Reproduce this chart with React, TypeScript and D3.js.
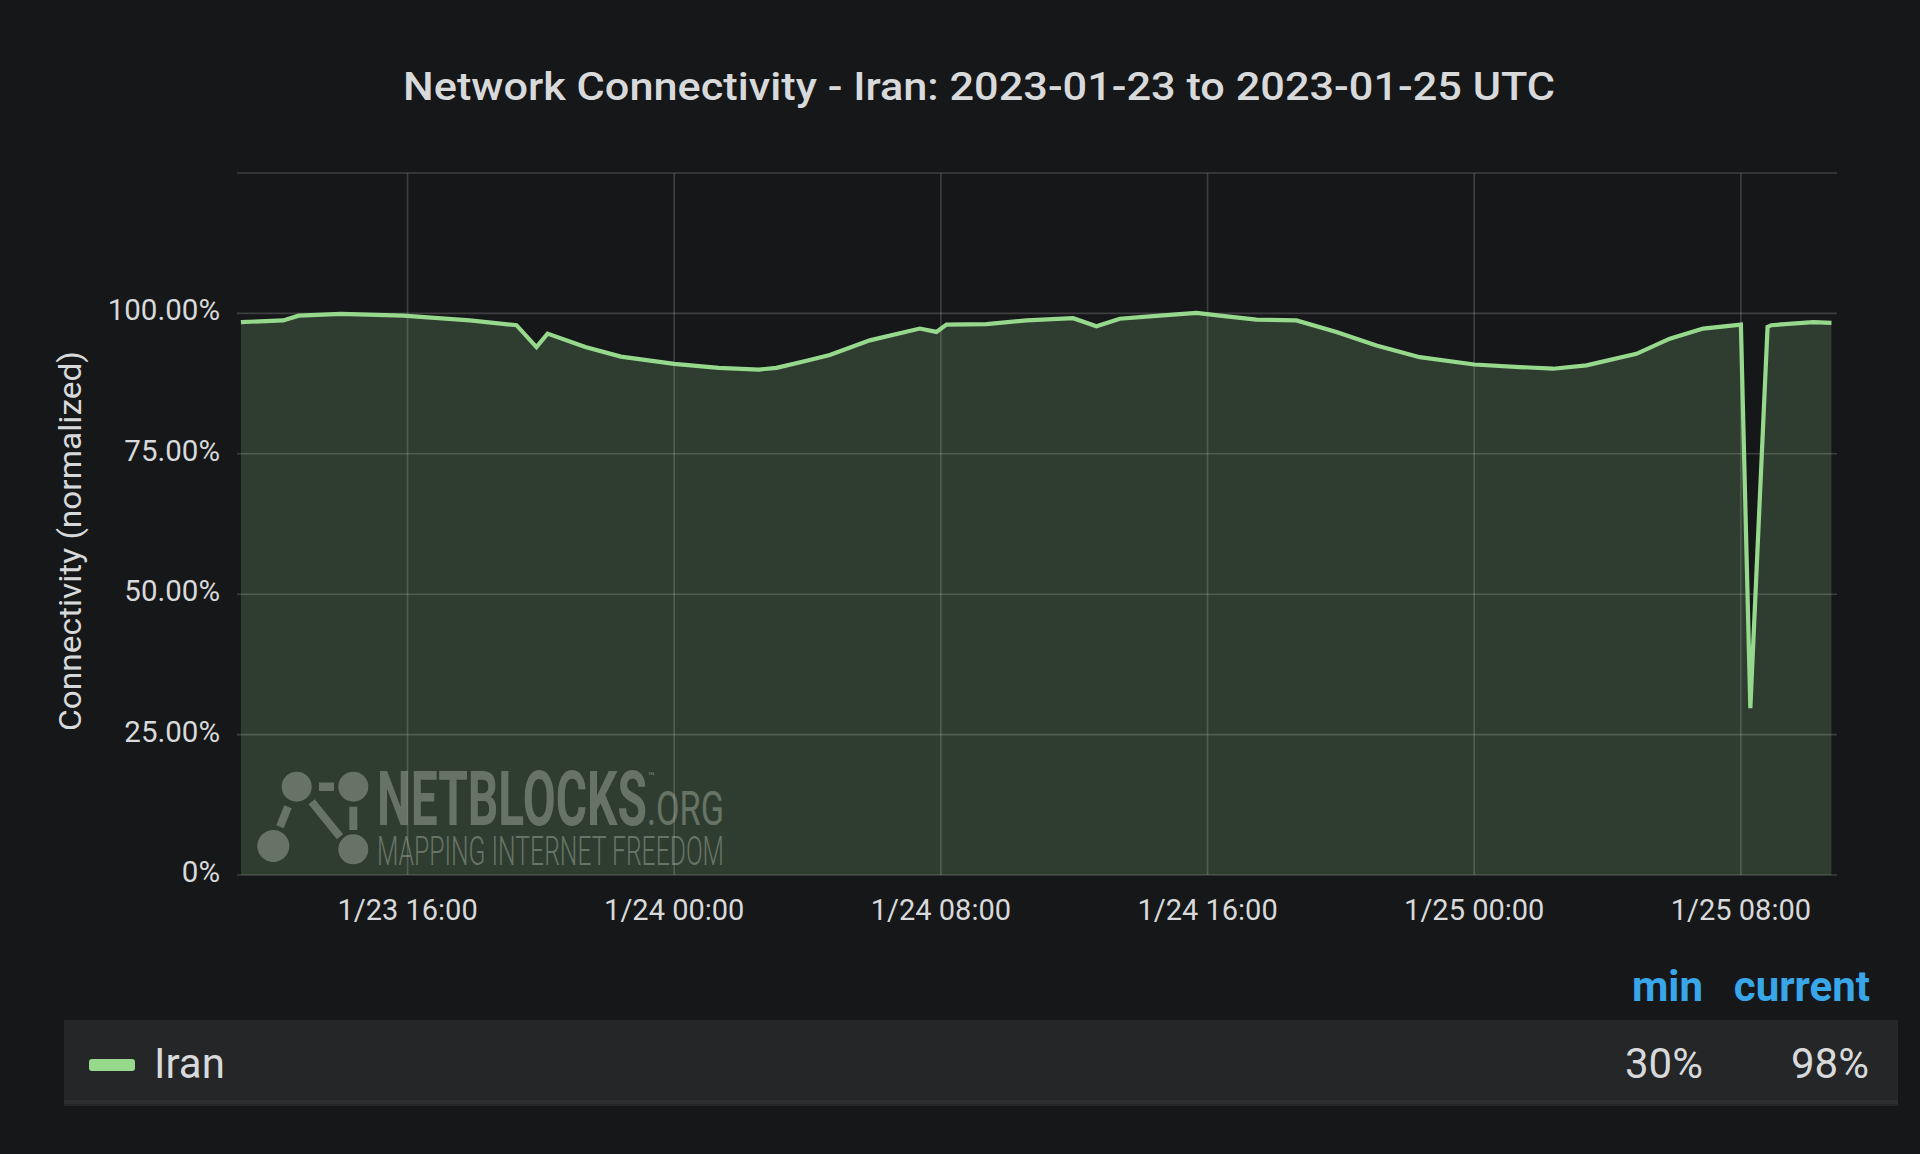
import React from "react";
import * as d3 from "d3";

const TITLE = "Network Connectivity - Iran: 2023-01-23 to 2023-01-25 UTC";
const Y_LABEL = "Connectivity (normalized)";
const SERIES_NAME = "Iran";

const TIMES = [
  "2023-01-23T11:00", "2023-01-23T12:16", "2023-01-23T12:44", "2023-01-23T14:00",
  "2023-01-23T15:52", "2023-01-23T17:52", "2023-01-23T19:16", "2023-01-23T19:52",
  "2023-01-23T20:12", "2023-01-23T21:20", "2023-01-23T22:24", "2023-01-24T00:00",
  "2023-01-24T01:20", "2023-01-24T02:32", "2023-01-24T03:04", "2023-01-24T04:00",
  "2023-01-24T04:40", "2023-01-24T05:52", "2023-01-24T07:22", "2023-01-24T07:52",
  "2023-01-24T08:10", "2023-01-24T09:22", "2023-01-24T10:34", "2023-01-24T11:58",
  "2023-01-24T12:40", "2023-01-24T13:22", "2023-01-24T14:22", "2023-01-24T15:40",
  "2023-01-24T16:22", "2023-01-24T17:28", "2023-01-24T18:40", "2023-01-24T19:52",
  "2023-01-24T21:04", "2023-01-24T22:22", "2023-01-25T00:00", "2023-01-25T01:22",
  "2023-01-25T02:22", "2023-01-25T03:22", "2023-01-25T04:52", "2023-01-25T05:52",
  "2023-01-25T06:52", "2023-01-25T08:00", "2023-01-25T08:17", "2023-01-25T08:48",
  "2023-01-25T08:55", "2023-01-25T10:10", "2023-01-25T10:43",
];
const VALUES = [
  98.45, 98.75, 99.6, 99.9,
  99.6, 98.75, 97.9, 94.0,
  96.4, 94.0, 92.3, 91.0,
  90.3, 90.0, 90.3, 91.6,
  92.6, 95.2, 97.3, 96.7,
  98.0, 98.1, 98.75, 99.15,
  97.7, 99.05, 99.5, 100.1,
  99.6, 98.9, 98.75, 96.7,
  94.3, 92.2, 90.9, 90.45,
  90.15, 90.75, 92.8, 95.5,
  97.3, 98.0, 29.7, 97.6,
  97.9, 98.45, 98.3,
];

const X_DOMAIN = ["2023-01-23T10:53", "2023-01-25T10:53"];
const Y_TICKS = [0, 25, 50, 75, 100];
const Y_GRID = [0, 25, 50, 75, 100, 125];
const LEGEND_HEADERS = ["min", "current"];
const LEGEND_VALUES = ["30%", "98%"];

const W = 1920;
const H = 1154;
const PLOT = { left: 237, right: 1837, top: 173, bottom: 875 };

const BG = "#161719";
const LINE = "#96d98d";
const TEXT = "#d8d9da";
const BLUE = "#38a6e8";
const FONT = "Roboto, 'Noto Sans', sans-serif";

export default function App() {
  const parse = d3.utcParse("%Y-%m-%dT%H:%M");
  const data = TIMES.map((t, i) => ({ t: parse(t) as Date, v: VALUES[i] }));

  const x = d3
    .scaleUtc()
    .domain(X_DOMAIN.map((d) => parse(d) as Date))
    .range([PLOT.left, PLOT.right]);
  const y = d3.scaleLinear().domain([0, 125]).range([PLOT.bottom, PLOT.top]);

  const area = d3
    .area<{ t: Date; v: number }>()
    .x((d) => x(d.t))
    .y0(y(0))
    .y1((d) => y(d.v));
  const line = d3
    .line<{ t: Date; v: number }>()
    .x((d) => x(d.t))
    .y((d) => y(d.v));

  const xTicks = x.ticks(d3.utcHour.every(8) as any);
  const fmtX = d3.utcFormat("%-m/%d %H:%M");
  const fmtY = (v: number) => (v === 0 ? "0%" : v.toFixed(2) + "%");

  const wmFill = "#8c9889";
  const wmOpacity = 0.6;

  return (
    <svg
      width={W}
      height={H}
      style={{ position: "absolute", left: 0, top: 0, display: "block" }}
      fontFamily={FONT}
    >
      <rect x={0} y={0} width={W} height={H} fill={BG} />

      <text
        x={979}
        y={100}
        textAnchor="middle"
        fill={TEXT}
        fontSize={38}
        fontWeight={500}
        textLength={1152}
        lengthAdjust="spacingAndGlyphs"
      >
        {TITLE}
      </text>

      {/* area fill */}
      <path d={area(data) || ""} fill={LINE} fillOpacity={0.2} />

      {/* watermark */}
      <g opacity={wmOpacity} fill={wmFill} stroke="none">
        <circle cx={296.7} cy={786.7} r={15} />
        <circle cx={353.3} cy={786.7} r={15} />
        <circle cx={273.3} cy={846} r={16} />
        <circle cx={353.3} cy={849.3} r={15} />
        <rect x={319} y={782.5} width={15} height={8.5} />
        <g stroke={wmFill} strokeWidth={8} strokeLinecap="butt">
          <line x1={288} y1={806.7} x2={280} y2={826.7} />
          <line x1={311.7} y1={801.7} x2={340} y2={836.7} />
          <line x1={353.3} y1={806.7} x2={353.3} y2={830} />
        </g>
        <text>
          <tspan x={377} y={825} fontSize={76} fontWeight={700} textLength={270} lengthAdjust="spacingAndGlyphs">
            NETBLOCKS
          </tspan>
          <tspan x={648} y={780} fontSize={11} fontWeight={700}>
            ™
          </tspan>
          <tspan x={647} y={825} fontSize={48} fontWeight={400} textLength={77} lengthAdjust="spacingAndGlyphs">
            .ORG
          </tspan>
          <tspan x={377} y={865} fontSize={41} fontWeight={300} textLength={347} lengthAdjust="spacingAndGlyphs">
            MAPPING INTERNET FREEDOM
          </tspan>
        </text>
      </g>

      {/* grid */}
      <g stroke="#cccccc" strokeOpacity={0.22} strokeWidth={1.6}>
        {Y_GRID.map((v) => (
          <line key={"h" + v} x1={PLOT.left} x2={PLOT.right} y1={y(v)} y2={y(v)} />
        ))}
        {xTicks.map((t) => (
          <line key={"v" + t.getTime()} x1={x(t)} x2={x(t)} y1={PLOT.top} y2={PLOT.bottom} />
        ))}
      </g>

      {/* series line */}
      <path
        d={line(data) || ""}
        fill="none"
        stroke={LINE}
        strokeWidth={4.2}
        strokeLinejoin="miter"
      />

      {/* y tick labels */}
      {Y_TICKS.map((v) => (
        <text
          key={"yt" + v}
          x={220}
          y={y(v) + 7}
          textAnchor="end"
          fill={TEXT}
          fontSize={29.5}
        >
          {fmtY(v)}
        </text>
      ))}

      {/* x tick labels */}
      {xTicks.map((t) => (
        <text
          key={"xt" + t.getTime()}
          x={x(t)}
          y={920}
          textAnchor="middle"
          fill={TEXT}
          fontSize={29}
        >
          {fmtX(t)}
        </text>
      ))}

      {/* y axis title */}
      <text
        transform="translate(81,541) rotate(-90)"
        textAnchor="middle"
        fill={TEXT}
        fontSize={31}
        textLength={380}
        lengthAdjust="spacingAndGlyphs"
      >
        {Y_LABEL}
      </text>

      {/* legend */}
      <text x={1703} y={1001} textAnchor="end" fill={BLUE} fontSize={42} fontWeight={700}>
        {LEGEND_HEADERS[0]}
      </text>
      <text x={1870} y={1001} textAnchor="end" fill={BLUE} fontSize={42} fontWeight={700}>
        {LEGEND_HEADERS[1]}
      </text>
      <rect x={64} y={1020} width={1834} height={86} fill="#252628" />
      <rect x={64} y={1100} width={1834} height={4} fill="#2e2f31" />
      <rect x={89} y={1059} width={46} height={12} rx={3} fill={LINE} />
      <text x={154} y={1078} fill={TEXT} fontSize={42}>
        {SERIES_NAME}
      </text>
      <text x={1703} y={1078} textAnchor="end" fill={TEXT} fontSize={42}>
        {LEGEND_VALUES[0]}
      </text>
      <text x={1869} y={1078} textAnchor="end" fill={TEXT} fontSize={42}>
        {LEGEND_VALUES[1]}
      </text>
    </svg>
  );
}
